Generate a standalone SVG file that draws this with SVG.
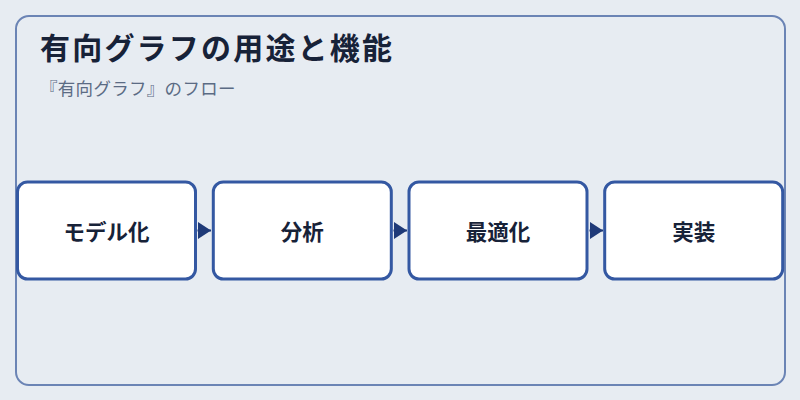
<svg xmlns="http://www.w3.org/2000/svg" width="800" height="400" viewBox="0 0 800 400">
<style>
.frame{fill:#e7ecf2;stroke:#6b84b5;stroke-width:2}
.box{fill:#ffffff;stroke:#3458a2;stroke-width:3}
.lbl{font-family:"Noto Sans CJK JP","Noto Sans",sans-serif;font-weight:700;font-size:21.5px;fill:#172238;text-anchor:middle}
.title{font-family:"Noto Sans CJK JP","Noto Sans",sans-serif;font-weight:700;font-size:30px;letter-spacing:2.2px;fill:#172238}
.sub{font-family:"Noto Sans CJK JP","Noto Sans",sans-serif;font-size:17.5px;letter-spacing:0.3px;fill:#5b6b84}
.edge{stroke:#1f3a78;stroke-width:2;fill:none}
</style>
<defs>
<marker id="arr" markerUnits="userSpaceOnUse" markerWidth="14" markerHeight="18" refX="13" refY="8.5" orient="auto">
<path d="M0,0 L13,8.5 L0,17 Z" fill="#1f3a78"/>
</marker>
</defs>
<rect width="800" height="400" fill="#e7ecf2"/>
<rect class="frame" x="16" y="16" width="769" height="369" rx="13"/>
<text class="title" x="40" y="58.5">有向グラフの用途と機能</text>
<text class="sub" x="40" y="95">『有向グラフ』のフロー</text>
<g id="connectors">
<path class="edge" d="M197.5,230.5 L211,230.5" marker-end="url(#arr)"/>
<path class="edge" d="M393.5,230.5 L407,230.5" marker-end="url(#arr)"/>
<path class="edge" d="M589.5,230.5 L603,230.5" marker-end="url(#arr)"/>
</g>
<g id="node1"><rect class="box" x="17.5" y="182" width="178" height="97" rx="10"/><text class="lbl" x="106.5" y="240">モデル化</text></g>
<g id="node2"><rect class="box" x="213.3" y="182" width="178" height="97" rx="10"/><text class="lbl" x="302.3" y="240">分析</text></g>
<g id="node3"><rect class="box" x="409" y="182" width="178" height="97" rx="10"/><text class="lbl" x="498" y="240">最適化</text></g>
<g id="node4"><rect class="box" x="604.7" y="182" width="178" height="97" rx="10"/><text class="lbl" x="693.7" y="240">実装</text></g>
</svg>
